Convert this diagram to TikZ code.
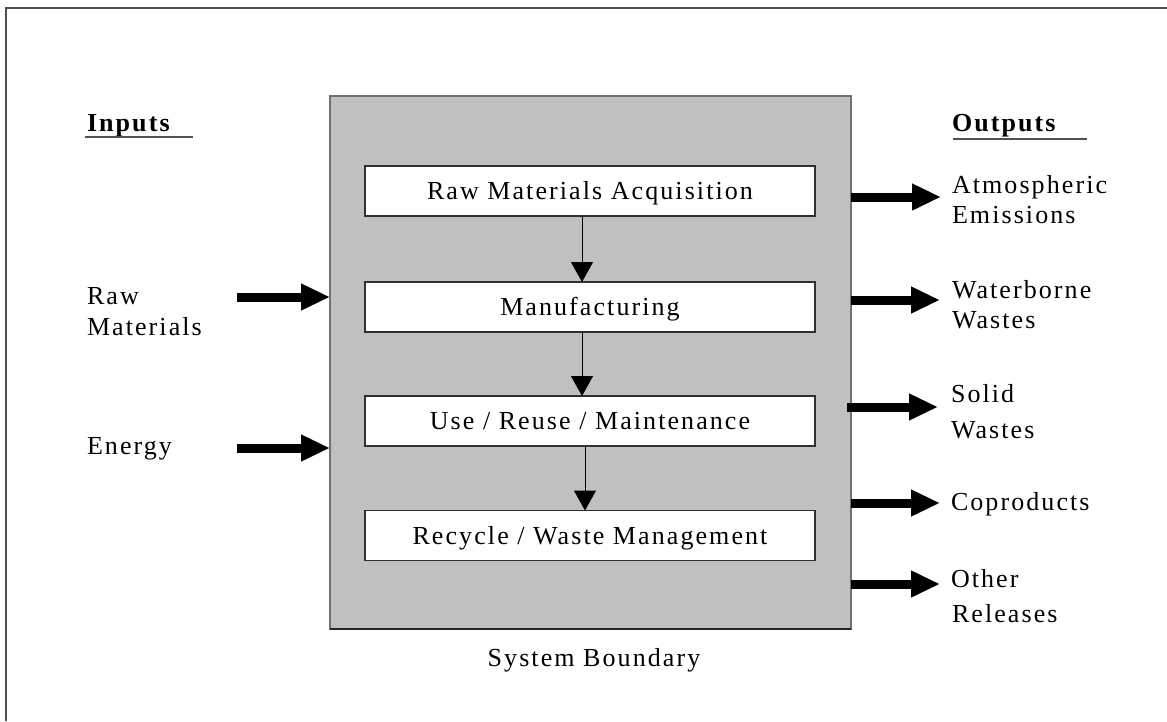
\documentclass[tikz,border=0pt]{standalone}
\usepackage{fontspec}
\setmainfont{Liberation Serif}[LetterSpace=8]
\usetikzlibrary{arrows.meta}
\definecolor{boundgray}{HTML}{C0C0C0}
\definecolor{edgegray}{HTML}{707070}
\definecolor{framegray}{HTML}{505050}
\definecolor{boxedge}{HTML}{303030}
\begin{document}
\begin{tikzpicture}[x=1pt,y=-1pt,
  every node/.style={font=\fontsize{26}{31}\selectfont, inner sep=0pt, outer sep=0pt},
  lbl/.style={anchor=base west},
  head/.style={anchor=base west, font=\fontsize{26}{31}\selectfont\bfseries},
  stage/.style={draw=boxedge, line width=1.2pt, fill=white, minimum width=450pt,
    minimum height=50pt, text height=17.2pt, text depth=0pt},
  flow/.style={line width=1pt, -{Triangle[length=20pt,width=22pt]}},
  bigarrow/.style={line width=9pt, -{Triangle[length=29pt,width=25pt]}},
  uline/.style={framegray, line width=2pt},
]
\useasboundingbox (0,0) rectangle (1167,721);
\fill[white] (0,0) rectangle (1167,721);
\draw[framegray, line width=1.5pt] (6,721) -- (6,8) -- (1167,8);

% system boundary
\node[draw=edgegray, fill=boundgray, line width=1.5pt, minimum width=521pt,
  minimum height=533pt] (sys) at (590.5,362.5) {};
\draw[black!85, line width=1.5pt] (sys.south west) -- (sys.south east);
\node[anchor=base] (sb) at (594,666) {System Boundary};

% stages
\node[stage] (s1) at (590,191) {Raw Materials Acquisition};
\node[stage] (s2) at (590,307) {Manufacturing};
\node[stage] (s3) at (590,421) {Use / Reuse / Maintenance};
\node[stage] (s4) at (590,535.5) {Recycle / Waste Management};
\draw[flow] ([xshift=-8pt]s1.south) -- ([xshift=-8pt]s2.north);
\draw[flow] ([xshift=-8pt]s2.south) -- ([xshift=-8pt]s3.north);
\draw[flow] ([xshift=-5pt]s3.south) -- ([xshift=-5pt]s4.north);

% inputs
\node[head] (inputs) at (87,131) {Inputs};
\draw[uline] (inputs.base west) ++(-2,6) -- ++(108,0);
\node[lbl] (rawA) at (87,304) {Raw};
\node[lbl] (rawB) at (87,335) {Materials};
\node[lbl] (energy) at (87,454) {Energy};
\coordinate (rawtail) at (237,297);
\coordinate (entail) at (237,448);
\draw[bigarrow] (rawtail) -- (rawtail -| sys.west);
\draw[bigarrow] (entail) -- (entail -| sys.west);

% outputs
\node[head] (outputs) at (952,131) {Outputs};
\draw[uline] (outputs.base west) ++(1,8) -- ++(134,0);
\node[lbl] (atmA) at (952,193) {Atmospheric};
\node[lbl] (atmB) at (952,223) {Emissions};
\node[lbl] (watA) at (952,298) {Waterborne};
\node[lbl] (watB) at (952,328) {Wastes};
\node[lbl] (solA) at (951,402) {Solid};
\node[lbl] (solB) at (951,438) {Wastes};
\node[lbl] (cop) at (951,510) {Coproducts};
\node[lbl] (othA) at (951,587) {Other};
\node[lbl] (othB) at (952,622) {Releases};
\coordinate (atmtip) at (941,197);
\coordinate (wattip) at (940,300);
\coordinate (soltip) at (938,407);
\coordinate (coptip) at (940,503);
\coordinate (othtip) at (940,584);
\draw[bigarrow] (atmtip -| sys.east) -- (atmtip);
\draw[bigarrow] (wattip -| sys.east) -- (wattip);
\draw[bigarrow] ([xshift=-4pt]soltip -| sys.east) -- (soltip);
\draw[bigarrow] (coptip -| sys.east) -- (coptip);
\draw[bigarrow] (othtip -| sys.east) -- (othtip);
\end{tikzpicture}
\end{document}
